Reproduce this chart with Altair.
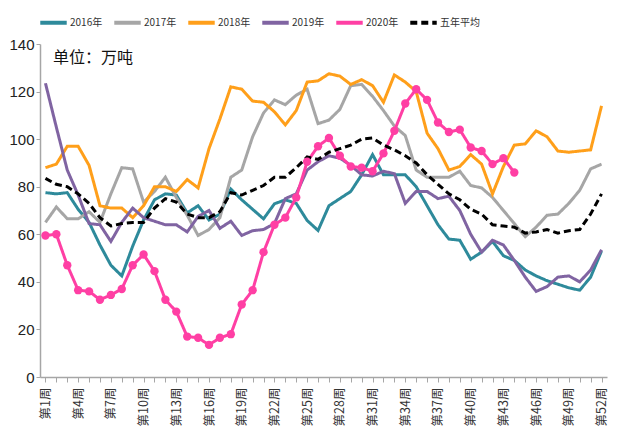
import altair as alt
import pandas as pd

weeks = [f"第{i}周" for i in range(1, 53)]
series_names = ["2016年", "2017年", "2018年", "2019年", "2020年", "五年平均"]

v2016 = [77.5, 77, 77.5, 70.5, 65, 55.5, 47, 42.5, 55, 66,
         74.5, 77, 76.5, 69, 72, 66, 68.5, 79, 74.5, 70.5,
         66.5, 72.8, 74.5, 73, 65.8, 61.6, 72, 75, 78, 85,
         93.5, 85, 85, 85, 80, 72, 64, 58, 57.5, 49.5,
         52.5, 57, 51, 49, 45, 42.5, 40.5, 39, 37.5, 36.5,
         42, 53]
v2017 = [65, 71.5, 66.5, 66.5, 69.5, 65, 77, 88, 87.5, 73.5,
         78, 84, 75.5, 68, 59.5, 62, 67, 84, 87, 101,
         111, 116.5, 114.5, 118.5, 121, 106.5, 108, 112.5, 122.5, 123,
         118, 112, 105.5, 101.5, 87, 84, 84, 84, 86.5, 80.5,
         79.5, 75.5, 70, 64.5, 59, 63, 68, 68.5, 73, 78.5,
         87.5, 89.5]
v2018 = [88, 89.5, 97, 97, 89, 72, 71, 71, 67, 72,
         80, 80, 78, 83, 79.5, 96, 108.5, 122, 121, 116,
         115.5, 111.5, 106, 112, 124, 124.5, 127.5, 126.5, 123, 125,
         122.5, 115.5, 127, 124, 120, 102.5, 96, 87, 88.5, 93.5,
         89.5, 77, 88.5, 97.5, 98, 103.5, 101, 95, 94.5, 95,
         95.5, 114]
v2019 = [123.5, 105, 87, 76.5, 64.5, 64, 57, 65, 71, 67,
         65.5, 64, 64, 61, 67.5, 70, 62.5, 65.5, 59.5, 61.5,
         62, 64.5, 75, 77, 87, 90.5, 93, 92, 89, 85,
         84.5, 86.5, 85.5, 73, 78, 78, 75, 76, 70, 60,
         52.5, 57.5, 55.5, 49, 42, 36, 38, 42, 42.5, 40,
         45, 53.5]
v2020 = [59.5, 60, 47, 36.5, 36, 32.5, 34.5, 37, 47, 51.5,
         44.5, 32.5, 27.5, 17, 16.5, 13.5, 16.5, 18, 30.5, 36.5,
         52.5, 64, 67, 75.5, 90.5, 97, 100.5, 93, 88.5, 88,
         86.5, 94, 103.5, 115, 121, 116.5, 107, 103, 104, 96.5,
         95, 89.5, 92, 86]
vavg = [83.5, 81, 80, 77, 73, 67, 63.5, 64.5, 65, 65,
        71, 75, 73.5, 68.5, 67, 67, 69.5, 77.5, 76.5, 78.5,
        80.5, 84, 84, 88, 92.5, 91.5, 94.5, 96, 97.5, 100,
        100.5, 97.5, 95.5, 93, 90, 85, 81, 77, 74.5, 70.5,
        68.5, 64, 63.5, 63, 60.5, 61, 62, 60.5, 61.5, 62,
        68.5, 77]

y_ticks = [0, 20, 40, 60, 80, 100, 120, 140]

colors = ["#2E8A9B", "#A6A6A6", "#FF9F1A", "#8064A2", "#FF3FA4", "#000000"]
dashes = [[1, 0], [1, 0], [1, 0], [1, 0], [1, 0], [7, 4]]

rows = []
for name, vals in zip(series_names, [v2016, v2017, v2018, v2019, v2020, vavg]):
    for w, v in zip(weeks, vals):
        rows.append({"week": w, "series": name, "value": v})
df = pd.DataFrame(rows)

label_expr = ("(toNumber(replace(replace(datum.value, '第', ''), '周', '')) - 1) % 3 == 0"
              " ? datum.value : ''")

x_enc = alt.X(
    "week:O", sort=weeks,
    scale=alt.Scale(type="point", padding=0.5),
    axis=alt.Axis(title=None, labelAngle=270, labelExpr=label_expr, labelOverlap=False,
                  labelFontSize=12.5, labelFont="Noto Sans CJK SC", labelColor="#333333",
                  domainColor="#A6A6A6", domainWidth=1.5, tickColor="#A6A6A6",
                  tickSize=5, labelPadding=5, grid=False),
)
y_enc = alt.Y(
    "value:Q", scale=alt.Scale(domain=[0, 140], nice=False, zero=True),
    axis=alt.Axis(title=None, values=y_ticks, grid=False, labelFontSize=15,
                  labelFont="Liberation Sans", labelColor="#222222",
                  domainColor="#A6A6A6", domainWidth=1.5, tickColor="#A6A6A6",
                  tickSize=4, labelPadding=2),
)

legend_kw = dict(title=None, orient="none", legendX=-2, legendY=-37,
                 direction="horizontal", symbolType="stroke", symbolSize=700,
                 symbolStrokeWidth=4, labelFontSize=10, labelFont="Noto Sans CJK SC",
                 labelColor="#333333", columnPadding=3, labelOffset=1, padding=0)

lines = alt.Chart(df).mark_line(strokeWidth=3).encode(
    x=x_enc,
    y=y_enc,
    color=alt.Color("series:N", sort=series_names,
                    scale=alt.Scale(domain=series_names, range=colors),
                    legend=alt.Legend(**legend_kw)),
    strokeDash=alt.StrokeDash("series:N", sort=series_names,
                              scale=alt.Scale(domain=series_names, range=dashes),
                              legend=alt.Legend(**legend_kw)),
)

pts = alt.Chart(df[df["series"] == "2020年"]).mark_point(
    filled=True, size=70, opacity=1, color="#FF3FA4"
).encode(x=x_enc, y=y_enc)

unit = alt.Chart(pd.DataFrame({"t": ["单位：万吨"]})).mark_text(
    align="left", baseline="middle", fontSize=16, font="Noto Sans CJK SC", color="#111111"
).encode(x=alt.value(13), y=alt.value(14), text="t:N")

chart = alt.layer(lines, pts, unit).properties(
    width=567, height=333,
    autosize=alt.AutoSizeParams(type="none"),
    padding={"left": 32, "top": 36, "right": 4, "bottom": 58},
    background="white",
).configure_view(stroke=None)

chart.save("out.html", embed_options={"renderer": "svg", "actions": False})
